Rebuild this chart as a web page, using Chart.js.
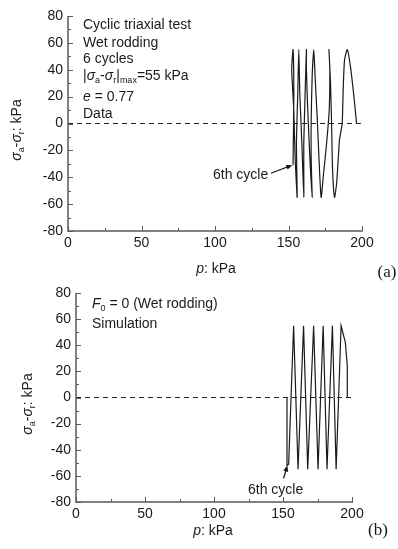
<!DOCTYPE html>
<html>
<head>
<meta charset="utf-8">
<script src="https://cdn.jsdelivr.net/npm/chart.js@4.4.0/dist/chart.umd.min.js"></script>
<style>
  body { margin: 0; background: #fff; }
  #page { position: relative; width: 398px; height: 549px; overflow: hidden;
          font-family: 'Liberation Sans', Arial, sans-serif; color: #1a1a1a; }
  canvas { position: absolute; left: 0; }
  .t { position: absolute; font-size: 14px; line-height: 16px; white-space: nowrap; }
  .t sub { font-size: 9px; vertical-align: -3px; line-height: 0; }
  .rot { transform: translate(-50%, -50%) rotate(-90deg); }
  .ctr { transform: translate(-50%, -50%); }
  .lab { font-family: 'Liberation Serif', 'Times New Roman', serif; font-size: 17px; }
</style>
</head>
<body>
<div id="page">
  <canvas id="chartA" width="398" height="256" style="top:0"></canvas>
  <canvas id="chartB" width="398" height="257" style="top:270px"></canvas>

  <!-- panel (a) texts -->
  <div class="t" style="left:83px; top:16px">Cyclic triaxial test</div>
  <div class="t" style="left:83px; top:34px">Wet rodding</div>
  <div class="t" style="left:83px; top:50px">6 cycles</div>
  <div class="t" style="left:83px; top:67px">|<i>σ</i><sub>a</sub>-<i>σ</i><sub>r</sub>|<sub>max</sub>=55 kPa</div>
  <div class="t" style="left:83px; top:88px"><i>e</i> = 0.77</div>
  <div class="t" style="left:83px; top:105px">Data</div>
  <div class="t" style="left:213px; top:166px">6th cycle</div>
  <div class="t rot" style="left:16px; top:130px"><i>σ</i><sub>a</sub>-<i>σ</i><sub>r</sub>: kPa</div>
  <div class="t ctr" style="left:216px; top:268px"><i>p</i>: kPa</div>
  <div class="t ctr lab" style="left:387px; top:272px">(a)</div>

  <!-- panel (b) texts -->
  <div class="t" style="left:92px; top:295px"><i>F</i><sub>0</sub> = 0 (Wet rodding)</div>
  <div class="t" style="left:92px; top:315px">Simulation</div>
  <div class="t" style="left:248px; top:481px">6th cycle</div>
  <div class="t rot" style="left:27px; top:404px"><i>σ</i><sub>a</sub>-<i>σ</i><sub>r</sub>: kPa</div>
  <div class="t ctr" style="left:213px; top:530px"><i>p</i>: kPa</div>
  <div class="t ctr lab" style="left:378px; top:530px">(b)</div>
</div>

<script>
// measured path, cyclic triaxial test (p, q)
const pTest = [196.3, 194.5, 192.2, 190.0, 188.1, 187.2, 186.5, 184.7, 183.8, 182.7,
               181.3, 180.0, 179.3, 178.6, 177.5, 178.1, 177.7, 175.9, 173.6, 172.2,
               170.9, 169.5, 168.1, 167.2, 166.1, 165.4, 165.4, 166.1, 164.5, 163.1,
               162.2, 162.2, 161.3, 160.4, 160.4, 159.1, 157.7, 157.0, 156.3, 155.4,
               155.9, 154.5, 153.6, 152.2, 153.1, 153.6, 153.1];
const qTest = [0, 20, 42, 55, 47, 25, 0, -12, -27, -45,
               -55, -35, 0, 30, 55, 40, 10, -15, -40, -55,
               -30, 5, 35, 55, 35, 0, -25, -55, -25, 10,
               40, 55, 22, -15, -55, -15, 22, 55, 22, -15,
               -55, -25, 10, 40, 55, 22, -31];

// simulated path
const pSim = [196.9, 196.6, 195.2, 192.1, 188.5, 185.8, 181.9, 179.1, 175.4,
              172.2, 167.9, 164.9, 160.9, 157.7, 154.1, 152.9, 152.9];
const qSim = [0, 24, 42, 55, -55, 55, -55, 55, -55,
              55, -55, 55, -55, 55, -51, -52, 0];

const zeroP = [0, 200];
const zeroQ = [0, 0];

const xTicks = [0, 50, 100, 150, 200];
const xMinor = [25, 75, 125, 175];
const yTicks = [-80, -60, -40, -20, 0, 20, 40, 60, 80];
const yMinor = [-70, -50, -30, -10, 10, 30, 50, 70];

function toPoints(xs, ys) {
    return xs.map((x, i) => ({ x: x, y: ys[i] }));
}

// axes lines, inward ticks and the "6th cycle" arrow
const axesPlugin = {
    id: 'axesPlugin',
    afterDraw(chart) {
        const { ctx, chartArea: a, scales: { x, y } } = chart;
        ctx.save();
        ctx.strokeStyle = '#5a5a5a';
        ctx.lineWidth = 1.5;
        ctx.beginPath();
        ctx.moveTo(a.left, a.top);
        ctx.lineTo(a.left, a.bottom);
        ctx.lineTo(a.right + 1, a.bottom);
        ctx.stroke();

        ctx.lineWidth = 1;
        const tick = (x1, y1, x2, y2) => { ctx.beginPath(); ctx.moveTo(x1, y1); ctx.lineTo(x2, y2); ctx.stroke(); };
        xTicks.forEach(v => { const px = Math.round(x.getPixelForValue(v)) + 0.5; tick(px, a.bottom, px, a.bottom - 5); });
        xMinor.forEach(v => { const px = Math.round(x.getPixelForValue(v)) + 0.5; tick(px, a.bottom, px, a.bottom - 3); });
        yTicks.forEach(v => { const py = Math.round(y.getPixelForValue(v)) + 0.5; tick(a.left, py, a.left + 5, py); });
        yMinor.forEach(v => { const py = Math.round(y.getPixelForValue(v)) + 0.5; tick(a.left, py, a.left + 3, py); });

        const arr = chart.options.plugins.axesPlugin.arrow;
        if (arr) {
            const x0 = x.getPixelForValue(arr[0]), y0 = y.getPixelForValue(arr[1]);
            const x1 = x.getPixelForValue(arr[2]), y1 = y.getPixelForValue(arr[3]);
            const ang = Math.atan2(y1 - y0, x1 - x0);
            ctx.strokeStyle = '#111';
            ctx.fillStyle = '#111';
            ctx.lineWidth = 1.2;
            ctx.beginPath();
            ctx.moveTo(x0, y0);
            ctx.lineTo(x1 - 4 * Math.cos(ang), y1 - 4 * Math.sin(ang));
            ctx.stroke();
            ctx.beginPath();
            ctx.moveTo(x1, y1);
            ctx.lineTo(x1 - 6 * Math.cos(ang) + 2.5 * Math.sin(ang), y1 - 6 * Math.sin(ang) - 2.5 * Math.cos(ang));
            ctx.lineTo(x1 - 6 * Math.cos(ang) - 2.5 * Math.sin(ang), y1 - 6 * Math.sin(ang) + 2.5 * Math.cos(ang));
            ctx.closePath();
            ctx.fill();
        }
        ctx.restore();
    }
};

function makePanel(id, ps, qs, cfg) {
    const tickFont = { family: "'Liberation Sans', Arial, sans-serif", size: 14 };
    return new Chart(document.getElementById(id), {
        type: 'scatter',
        data: {
            datasets: [
                {
                    data: toPoints(zeroP, zeroQ),
                    showLine: true,
                    borderColor: '#222',
                    borderWidth: 1,
                    borderDash: [5, 4],
                    pointRadius: 0
                },
                {
                    data: toPoints(ps, qs),
                    showLine: true,
                    borderColor: '#1a1a1a',
                    borderWidth: 1.2,
                    tension: cfg.tension,
                    pointRadius: 0
                }
            ]
        },
        options: {
            responsive: false,
            animation: false,
            devicePixelRatio: 1,
            layout: { padding: cfg.padding },
            plugins: {
                legend: { display: false },
                tooltip: { enabled: false },
                axesPlugin: { arrow: cfg.arrow }
            },
            scales: {
                x: {
                    type: 'linear',
                    min: 0,
                    max: 200,
                    grid: { display: false, drawTicks: false },
                    border: { display: false },
                    ticks: { stepSize: 50, font: tickFont, color: '#1a1a1a', padding: 4, maxRotation: 0 },
                    afterFit(s) { s.height = 25; }
                },
                y: {
                    min: -80,
                    max: 80,
                    grid: { display: false, drawTicks: false },
                    border: { display: false },
                    ticks: { stepSize: 20, font: tickFont, color: '#1a1a1a', padding: 5 },
                    afterFit(s) { s.width = cfg.yWidth; }
                }
            }
        },
        plugins: [axesPlugin]
    });
}

makePanel('chartA', pTest, qTest, {
    padding: { left: 0, top: 16, right: 36, bottom: 0 },
    yWidth: 68,
    tension: 0.2,
    arrow: [138, -37, 152.6, -31]
});

makePanel('chartB', pSim, qSim, {
    padding: { left: 0, top: 23, right: 46, bottom: 0 },
    yWidth: 76,
    tension: 0,
    arrow: [150.4, -62, 153.2, -52]
});
</script>
</body>
</html>
